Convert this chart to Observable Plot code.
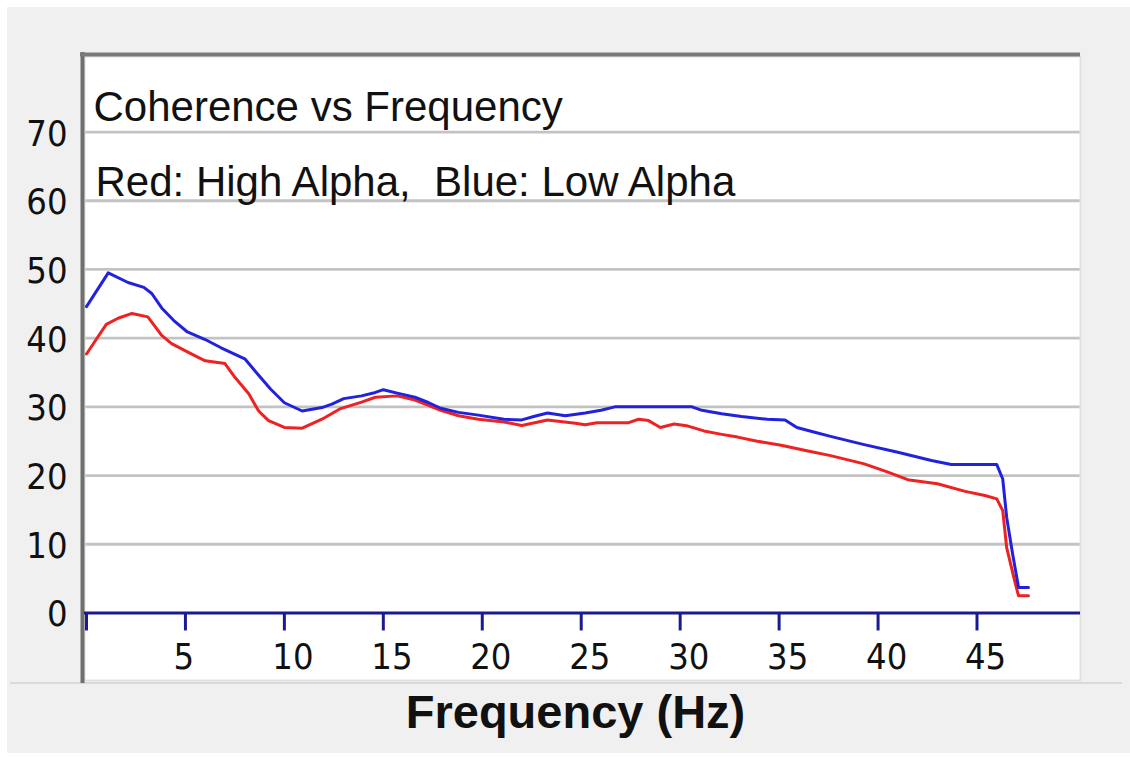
<!DOCTYPE html>
<html>
<head>
<meta charset="utf-8">
<script src="https://cdn.jsdelivr.net/npm/d3@7"></script>
<script src="https://cdn.jsdelivr.net/npm/@observablehq/plot@0.6"></script>
<style>
  html, body { margin: 0; padding: 0; background: #ffffff; }
  #wrap { position: relative; width: 1130px; height: 757px; overflow: hidden; }
  #panel { position: absolute; left: 7px; top: 7px; right: 0; bottom: 4px; background: #f0f0f0; }
  #groove { position: absolute; left: 10px; right: 8px; top: 682px; height: 2px; background: #dadada; }
  #chart { position: absolute; left: 0; top: 0; }
</style>
</head>
<body>
<div id="wrap">
  <div id="panel"></div>
  <div id="groove"></div>
  <div id="chart"></div>
</div>
<script>
// ---- data ----
const titleText = "Coherence vs Frequency";
const subtitleText = "Red: High Alpha,\u00A0 Blue: Low Alpha";
const xAxisLabel = "Frequency (Hz)";

const yTicks = [0, 10, 20, 30, 40, 50, 60, 70];
const yGrid = [10, 20, 30, 40, 50, 60, 70];
const xTicks = [0, 5, 10, 15, 20, 25, 30, 35, 40, 45];
const xTickLabels = [5, 10, 15, 20, 25, 30, 35, 40, 45];

// Blue: Low Alpha
const blueFreq = [0, 1.1, 2.1, 2.9, 3.3, 3.8, 4.4, 5.1, 6.0, 6.8, 8.0, 8.7, 9.3, 10.0, 10.9, 11.9,
  12.4, 13.0, 13.9, 14.6, 15.0, 15.7, 16.6, 17.3, 17.9, 18.8, 19.8, 21.1, 22.0, 22.6, 23.3, 24.2,
  25.2, 26.0, 26.7, 30.6, 31.1, 32.1, 33.1, 34.4, 35.3, 35.9, 36.8, 37.6, 39.3, 41.0, 42.7, 43.7,
  46.0, 46.3, 46.5, 46.8, 47.1, 47.6];
const blueCoh = [44.6, 49.5, 48.1, 47.4, 46.5, 44.4, 42.6, 40.9, 39.8, 38.6, 37.0, 34.6, 32.6, 30.6, 29.4, 29.9,
  30.4, 31.2, 31.6, 32.1, 32.5, 32.0, 31.4, 30.6, 29.8, 29.2, 28.8, 28.2, 28.1, 28.6, 29.1, 28.7,
  29.1, 29.5, 30.0, 30.0, 29.5, 29.0, 28.6, 28.2, 28.1, 27.0, 26.3, 25.7, 24.5, 23.4, 22.2, 21.6,
  21.6, 19.5, 13.9, 8.6, 3.7, 3.7];

// Red: High Alpha
const redFreq = [0, 1.0, 1.6, 2.3, 3.1, 3.8, 4.3, 5.1, 6.0, 7.0, 7.5, 8.2, 8.7, 9.2, 10.0, 10.9,
  11.9, 12.8, 13.9, 14.6, 15.7, 16.6, 17.3, 17.9, 18.8, 19.8, 21.1, 22.0, 23.3, 24.7, 25.2, 25.8,
  27.4, 27.9, 28.4, 29.0, 29.7, 30.4, 31.2, 32.1, 32.9, 33.9, 35.1, 36.4, 37.6, 39.3, 40.5, 41.5,
  43.0, 44.4, 45.4, 46.0, 46.3, 46.5, 46.9, 47.1, 47.6];
const redCoh = [37.7, 42.0, 42.9, 43.6, 43.1, 40.4, 39.2, 38.0, 36.7, 36.3, 34.3, 31.9, 29.4, 28.0, 27.0, 26.9,
  28.2, 29.7, 30.7, 31.4, 31.6, 31.0, 30.2, 29.5, 28.7, 28.2, 27.8, 27.3, 28.1, 27.6, 27.4, 27.7,
  27.7, 28.2, 28.0, 27.0, 27.5, 27.2, 26.5, 26.0, 25.6, 25.0, 24.4, 23.6, 22.9, 21.7, 20.5, 19.4,
  18.8, 17.7, 17.1, 16.6, 14.9, 9.5, 4.7, 2.5, 2.5];

// ---- tables built from the arrays ----
const blueData = blueFreq.map((f, i) => ({f, v: blueCoh[i]}));
const redData = redFreq.map((f, i) => ({f, v: redCoh[i]}));

const narrow = "'Liberation Sans Narrow', 'Arial Narrow', 'DejaVu Sans Condensed', sans-serif";
const sans = "'Liberation Sans', Arial, sans-serif";

const chart = Plot.plot({
  width: 1130,
  height: 757,
  marginLeft: 84,
  marginRight: 50,
  marginTop: 56,
  marginBottom: 77,
  style: {background: "transparent", color: "#111", overflow: "visible"},
  x: {domain: [-0.1, 50.23], axis: null},
  y: {domain: [-9.83, 81.0]},
  marks: [
    Plot.frame({fill: "#ffffff", stroke: null}),
    Plot.gridY(yGrid, {stroke: "#c3c3c3", strokeOpacity: 1, strokeWidth: 2.8}),
    // sunken border (left + top dark, right light)
    Plot.frame({stroke: "#e2e2e2", strokeWidth: 2, fill: null}),
    Plot.ruleX([-0.1], {stroke: "#6f6f6f", strokeWidth: 4, dx: -2, insetTop: -4, insetBottom: -3}),
    Plot.ruleY([81.0], {stroke: "#7a7a7a", strokeWidth: 4, dy: -2, insetLeft: -4}),
    // y axis labels
    Plot.axisY(yTicks, {tickSize: 0, tickPadding: 17, fontSize: 36, fontFamily: narrow, dy: 2, label: null}),
    // zero line + x ticks
    Plot.ruleY([0], {stroke: "#1b1b8f", strokeWidth: 3}),
    Plot.ruleX(xTicks, {x: d => d, y1: 0, y2: 0, insetBottom: -18, stroke: "#1b1b8f", strokeWidth: 3}),
    Plot.text(xTickLabels, {x: d => d, y: 0, text: d => String(d), dx: -12, dy: 56.5,
      textAnchor: "start", lineAnchor: "bottom", fontSize: 36, fontFamily: narrow, fill: "#111"}),
    // series
    Plot.line(redData, {x: "f", y: "v", stroke: "#ee2222", strokeWidth: 3}),
    Plot.line(blueData, {x: "f", y: "v", stroke: "#2222dd", strokeWidth: 3}),
    // in-plot titles
    Plot.text([titleText], {frameAnchor: "top-left", text: d => d, dx: 9, dy: 64.7,
      textAnchor: "start", lineAnchor: "bottom", fontSize: 42, fontFamily: sans, fill: "#111"}),
    Plot.text([subtitleText], {frameAnchor: "top-left", text: d => d, dx: 11, dy: 139,
      textAnchor: "start", lineAnchor: "bottom", fontSize: 42, fontFamily: sans, fill: "#111"}),
    // x axis label
    Plot.text([xAxisLabel], {frameAnchor: "bottom", text: d => d, dx: -7, dy: 47,
      textAnchor: "middle", lineAnchor: "bottom", fontSize: 47, fontWeight: "bold", fontFamily: sans, fill: "#111"})
  ]
});
document.getElementById("chart").appendChild(chart);
</script>
</body>
</html>
